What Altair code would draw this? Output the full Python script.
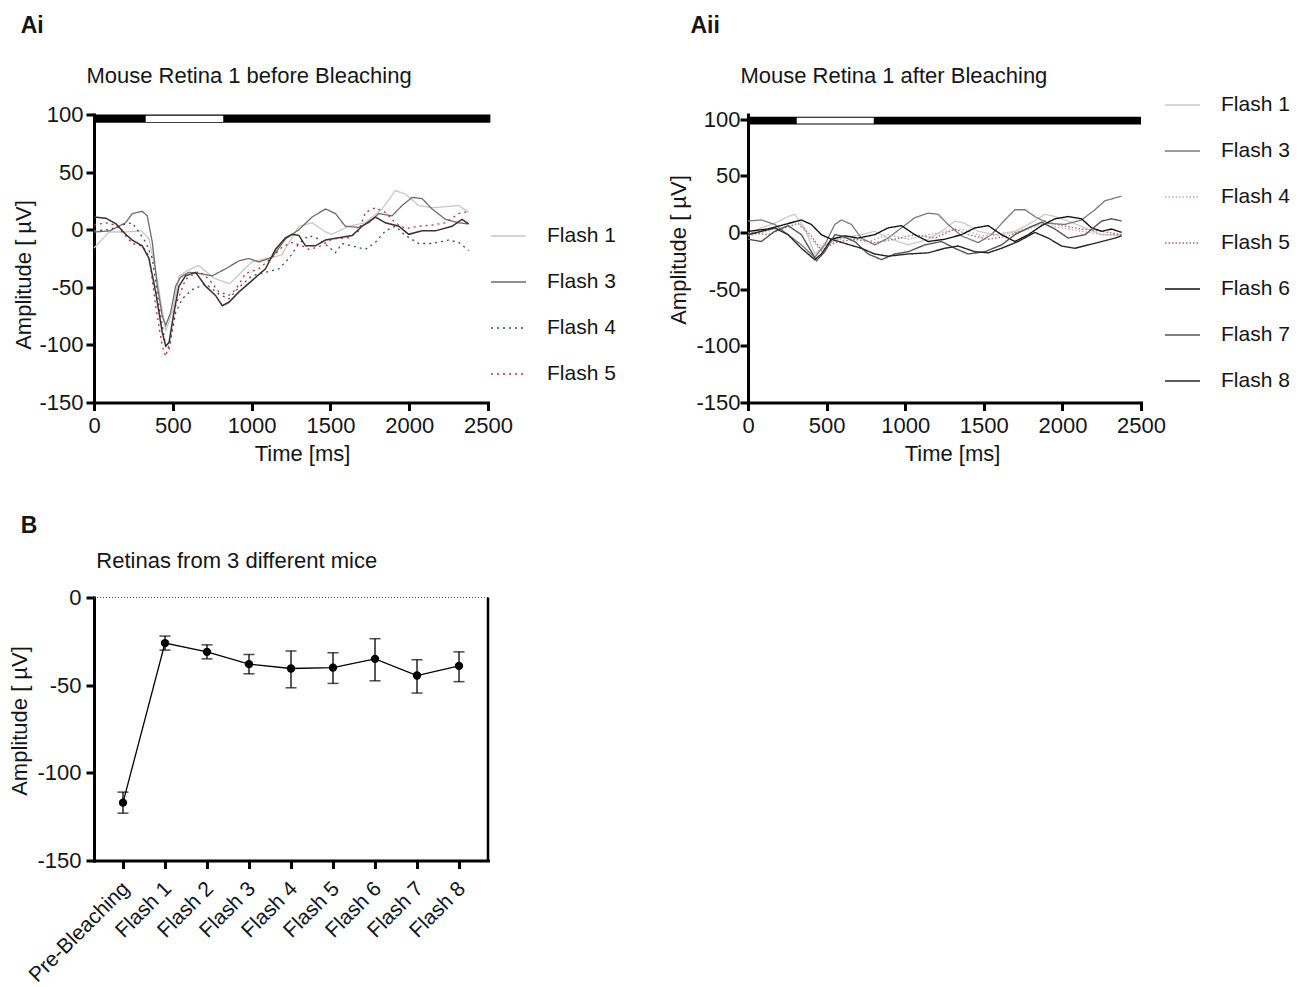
import altair as alt
import pandas as pd

FONT = "Liberation Sans"
INK = "#151515"

# ---------------- Panel Ai : before bleaching ----------------
AI_TAG = ["Ai"]
AI_SUBTITLE = ["Mouse Retina 1 before Bleaching"]
AI_SERIES = ["Flash 1", "Flash 3", "Flash 4", "Flash 5"]
AI_COLORS = ["#c8c8c8", "#6c6c6c", "#34458c", "#c0302c"]
AI_DASH = [[1, 0], [1, 0], [2, 4], [2, 4]]
AI_WIDTHS = [1.3, 1.3, 2.4, 2.4]

AI_F1_T = [0, 95, 200, 300, 350, 400, 455, 500, 540, 600, 665, 760, 860, 1000, 1190, 1300, 1385, 1470, 1510, 1617, 1720, 1828, 1912, 1976, 2060, 2145, 2315, 2377]
AI_F1_V = [-16, -2, -2, -1, -8, -42, -88, -70, -40, -35, -31, -42, -47, -28, -22, 3, 6, -2, -4, 3, 6, 18, 34, 31, 21, 19, 21, 15]

AI_F3_T = [0, 100, 200, 243, 306, 338, 370, 402, 433, 455, 486, 518, 550, 602, 666, 750, 835, 920, 983, 1046, 1130, 1215, 1300, 1384, 1469, 1532, 1595, 1680, 1743, 1807, 1891, 1955, 2018, 2082, 2145, 2230, 2314, 2377]
AI_F3_V = [-2, -1, 6, 14, 16, 12, -11, -49, -75, -83, -72, -49, -41, -37, -38, -40, -34, -27, -25, -28, -24, -8, 0, 11, 18, 14, 3, 2, 6, 14, 12, 21, 28, 27, 18, 9, 6, 5]

AI_F4_T = [0, 95, 200, 243, 285, 328, 370, 412, 455, 476, 518, 560, 623, 708, 793, 856, 920, 1004, 1088, 1173, 1236, 1300, 1363, 1426, 1490, 1532, 1574, 1638, 1722, 1786, 1849, 1912, 1976, 2060, 2145, 2251, 2314, 2377]
AI_F4_V = [-1, 0, 5, 6, -2, -11, -25, -66, -101, -104, -72, -60, -52, -47, -56, -60, -50, -40, -37, -34, -25, -12, -5, -8, -15, -20, -12, -14, -17, -11, -1, 3, -5, -12, -12, -9, -11, -18]

AI_F5_T = [0, 74, 137, 200, 243, 306, 349, 391, 433, 455, 486, 518, 581, 666, 729, 793, 856, 898, 962, 1046, 1130, 1194, 1257, 1321, 1363, 1426, 1511, 1617, 1680, 1722, 1786, 1849, 1912, 1976, 2060, 2145, 2230, 2314, 2377]
AI_F5_V = [4, 6, 4, -5, -12, -14, -23, -66, -101, -110, -95, -66, -43, -36, -43, -54, -57, -52, -38, -34, -24, -15, -11, -14, -17, -15, -8, -7, -1, 15, 19, 15, 6, 1, 3, 4, 6, 14, 16]

# an additional unlabelled dark trace visible in the panel
AI_EXTRA_T = [0, 75, 140, 200, 243, 306, 349, 391, 433, 455, 476, 507, 539, 581, 645, 708, 771, 814, 856, 920, 1004, 1088, 1152, 1215, 1257, 1300, 1342, 1405, 1469, 1553, 1638, 1701, 1786, 1849, 1934, 1997, 2082, 2166, 2272, 2335, 2377]
AI_EXTRA_V = [11, 10, 5, -4, -9, -14, -25, -54, -89, -101, -98, -72, -49, -40, -37, -49, -57, -66, -63, -54, -44, -34, -17, -7, -4, -5, -14, -14, -9, -7, -5, 3, 11, 6, 3, -4, -1, -1, 3, 9, 5]

AI_STIM_START = [0]
AI_STIM_END = [2515]
AI_LIGHT_ON = [328]
AI_LIGHT_OFF = [820]

# ---------------- Panel Aii : after bleaching ----------------
AII_TAG = ["Aii"]
AII_SUBTITLE = ["Mouse Retina 1 after Bleaching"]
AII_SERIES = ["Flash 1", "Flash 3", "Flash 4", "Flash 5", "Flash 6", "Flash 7", "Flash 8"]
AII_COLORS = ["#cacaca", "#7a7a7a", "#c9a3b4", "#a86868", "#101010", "#545454", "#262626"]
AII_DASH = [[1, 0], [1, 0], [1.5, 2], [1.5, 2], [1, 0], [1, 0], [1, 0]]
AII_WIDTHS = [1.3, 1.4, 1.1, 1.1, 1.6, 1.6, 1.5]

AII_F1_T = [0, 85, 170, 255, 297, 361, 424, 488, 594, 721, 806, 891, 1019, 1146, 1231, 1316, 1379, 1464, 1570, 1698, 1783, 1889, 1952, 2037, 2144, 2250, 2377]
AII_F1_V = [-2, 4, 8, 14, 16, 4, -19, -11, -5, -2, 1, -5, -11, -6, 1, 10, 8, 1, -2, 1, 7, 16, 14, 10, 4, -2, -2]

AII_F3_T = [0, 85, 170, 255, 340, 424, 488, 552, 594, 658, 721, 806, 891, 976, 1061, 1146, 1210, 1273, 1358, 1464, 1549, 1634, 1698, 1762, 1825, 1910, 2016, 2122, 2207, 2271, 2377]
AII_F3_V = [10, 11, 7, -2, -11, -22, -11, 7, 11, 7, -5, -11, -5, 4, 13, 17, 16, 7, -3, -9, -2, 11, 20, 20, 14, 8, 7, 11, 20, 28, 32]

AII_F4_T = [0, 127, 233, 318, 382, 446, 509, 637, 764, 891, 1019, 1146, 1273, 1358, 1486, 1613, 1740, 1868, 1995, 2122, 2250, 2377]
AII_F4_V = [-3, 1, 7, 10, -2, -13, -8, -5, -8, -2, -6, -2, 1, 3, -3, -2, 1, 7, 4, 1, -2, -3]

AII_F5_T = [0, 127, 233, 318, 403, 467, 552, 679, 806, 934, 1061, 1188, 1316, 1400, 1528, 1655, 1783, 1889, 1995, 2122, 2250, 2377]
AII_F5_V = [0, -2, 4, 8, -3, -16, -9, -6, -9, -6, -2, -5, 3, -2, -6, -3, 4, 10, 6, 3, 1, -2]

AII_F6_T = [0, 127, 233, 340, 403, 467, 530, 616, 700, 806, 891, 976, 1061, 1146, 1252, 1358, 1443, 1528, 1613, 1698, 1783, 1868, 1952, 2037, 2122, 2186, 2250, 2313, 2377]
AII_F6_V = [1, 3, 7, 11, 7, -2, -6, -3, -5, -2, 4, 6, -2, -8, -6, -2, 4, 6, -2, -8, -2, 6, 12, 14, 12, 4, 1, 3, 0]

AII_F7_T = [0, 85, 170, 255, 340, 403, 435, 488, 552, 594, 679, 764, 849, 934, 1019, 1125, 1231, 1316, 1400, 1507, 1613, 1698, 1783, 1868, 1952, 2037, 2144, 2250, 2313, 2377]
AII_F7_V = [-6, -8, 1, 6, -2, -17, -25, -17, -2, -3, -8, -19, -24, -19, -17, -11, -8, -14, -19, -17, -11, -2, 4, 9, 3, -5, -2, 10, 12, 10]

AII_F8_T = [0, 85, 170, 255, 340, 424, 467, 530, 600, 721, 806, 891, 1019, 1146, 1252, 1337, 1443, 1528, 1613, 1719, 1825, 1910, 1995, 2080, 2165, 2250, 2335, 2377]
AII_F8_V = [-2, 1, 4, -2, -14, -24, -19, -6, -9, -14, -19, -21, -19, -18, -14, -12, -17, -18, -14, -8, 0, -5, -12, -14, -11, -8, -5, -3]

AII_STIM_START = [0]
AII_STIM_END = [2500]
AII_LIGHT_ON = [310]
AII_LIGHT_OFF = [800]

# ---------------- Panel B : summary ----------------
B_TAG = ["B"]
B_SUBTITLE = ["Retinas from 3 different mice"]
B_CATS = ["Pre-Bleaching", "Flash 1", "Flash 2", "Flash 3", "Flash 4", "Flash 5", "Flash 6", "Flash 7", "Flash 8"]
B_MEAN = [-117, -26, -31, -38, -40.5, -40, -35, -44.5, -39]
B_LOW = [-123, -30, -35, -43.5, -51.5, -49, -47.5, -54.5, -48]
B_HIGH = [-111, -22, -27, -32.5, -30.5, -31.5, -23.5, -35.5, -31]

TIME_TICKS = [0, 500, 1000, 1500, 2000, 2500]
AMP_TICKS_A = [-150, -100, -50, 0, 50, 100]
AMP_TICKS_B = [-150, -100, -50, 0]

W_A, H_A = 394, 288
W_AII = 393
W_B, H_B = 394, 263

PLAIN = "'' + datum.value"


def traces_df(series):
    rows = []
    for name, ts, vs in series:
        for t, v in zip(ts, vs):
            rows.append({"series": name, "t": t, "v": v})
    return pd.DataFrame(rows)


def text_layer(texts, x, y, size, weight="normal"):
    return alt.Chart(pd.DataFrame({"label": texts})).mark_text(
        align="left", baseline="alphabetic", fontSize=size, fontWeight=weight,
        font=FONT, color=INK
    ).encode(x=alt.value(x), y=alt.value(y), text="label:N")


def trace_panel(df, extra, series, colors, dashes, widths, ydomain, stim, light,
                bar_y, white_y, legend_xy, xtitle_x, ytitle_xy, ylabel_pad,
                tag, tag_x, subtitle, width, height):
    xenc = alt.X("t:Q", scale=alt.Scale(domain=[0, 2500], nice=False, zero=False),
                 axis=alt.Axis(values=TIME_TICKS, title="Time [ms]", titleX=xtitle_x,
                               labelExpr=PLAIN, labelPadding=5, titlePadding=7))
    yenc = alt.Y("v:Q", scale=alt.Scale(domain=ydomain, nice=False, zero=False),
                 axis=alt.Axis(values=AMP_TICKS_A, title="Amplitude [ µV]",
                               titleX=ytitle_xy[0], titleY=ytitle_xy[1],
                               labelExpr=PLAIN, labelPadding=ylabel_pad))
    leg = alt.Legend(orient="none", legendX=legend_xy[0], legendY=legend_xy[1], title=None,
                     symbolType="stroke", symbolSize=1225, labelFontSize=21,
                     labelFont=FONT, labelColor=INK, labelOffset=20, rowPadding=17)
    lines = alt.Chart(df).mark_line().encode(
        x=xenc, y=yenc,
        color=alt.Color("series:N", scale=alt.Scale(domain=series, range=colors), legend=leg),
        strokeDash=alt.StrokeDash("series:N", scale=alt.Scale(domain=series, range=dashes), legend=leg),
        strokeWidth=alt.StrokeWidth("series:N", scale=alt.Scale(domain=series, range=widths), legend=leg),
    )
    layers = [lines]
    if extra is not None:
        layers.append(alt.Chart(extra).mark_line(color="#3a302c", strokeWidth=1.5).encode(x=xenc, y=yenc))
    sdf = pd.DataFrame({"t": stim[0], "t2": stim[1]})
    ldf = pd.DataFrame({"t": light[0], "t2": light[1]})
    layers.append(alt.Chart(sdf).mark_rect(color="black").encode(
        x=xenc, x2="t2:Q", y=alt.value(bar_y[0]), y2=alt.value(bar_y[1])))
    layers.append(alt.Chart(ldf).mark_rect(color="white").encode(
        x=xenc, x2="t2:Q", y=alt.value(white_y[0]), y2=alt.value(white_y[1])))
    layers.append(text_layer(tag, tag_x, -81.7, 23, "bold"))
    layers.append(text_layer(subtitle, -7.6, -32, 22))
    return alt.layer(*layers).properties(width=width, height=height)


ai_df = traces_df([("Flash 1", AI_F1_T, AI_F1_V), ("Flash 3", AI_F3_T, AI_F3_V),
                   ("Flash 4", AI_F4_T, AI_F4_V), ("Flash 5", AI_F5_T, AI_F5_V)])
ai_extra = pd.DataFrame({"t": AI_EXTRA_T, "v": AI_EXTRA_V})

ai = trace_panel(ai_df, ai_extra, AI_SERIES, AI_COLORS, AI_DASH, AI_WIDTHS, [-150, 100],
                 (AI_STIM_START, AI_STIM_END), (AI_LIGHT_ON, AI_LIGHT_OFF),
                 (0, 8.3), (1.2, 7.4), (396, 103), 208, (-59, 160), 3,
                 AI_TAG, -73.3, AI_SUBTITLE, W_A, H_A)

aii_df = traces_df([("Flash 1", AII_F1_T, AII_F1_V), ("Flash 3", AII_F3_T, AII_F3_V),
                    ("Flash 4", AII_F4_T, AII_F4_V), ("Flash 5", AII_F5_T, AII_F5_V),
                    ("Flash 6", AII_F6_T, AII_F6_V), ("Flash 7", AII_F7_T, AII_F7_V),
                    ("Flash 8", AII_F8_T, AII_F8_V)])

aii = trace_panel(aii_df, None, AII_SERIES, AII_COLORS, AII_DASH, AII_WIDTHS, [-150, 104],
                  (AII_STIM_START, AII_STIM_END), (AII_LIGHT_ON, AII_LIGHT_OFF),
                  (2.3, 10), (3.3, 9), (416, -28), 204, (-57.6, 135), 0,
                  AII_TAG, -57.6, AII_SUBTITLE, W_AII, H_A)

# ---------------- Panel B ----------------
bdf = pd.DataFrame({"cat": B_CATS, "mean": B_MEAN, "low": B_LOW, "high": B_HIGH,
                    "idx": list(range(len(B_CATS)))})
bx = alt.X("cat:N", sort=B_CATS, scale=alt.Scale(type="point", padding=0.69),
           axis=alt.Axis(title=None, labelAngle=-45, labelAlign="right", labelFontSize=21,
                         labelBaseline="top", labelPadding=9, labelOffset=-5))
by = alt.Y("mean:Q", scale=alt.Scale(domain=[-150, 0], nice=False, zero=False),
           axis=alt.Axis(values=AMP_TICKS_B, title="Amplitude [ µV]", titleX=-62.5,
                         titleY=123, labelExpr=PLAIN, labelPadding=5))
bbase = alt.Chart(bdf)
b_zero = alt.Chart(pd.DataFrame({"z": [0]})).mark_rule(
    color="#555", strokeDash=[1, 2], strokeWidth=1).encode(y=alt.Y("z:Q"))
b_right = alt.Chart(pd.DataFrame({"z": [0]})).mark_rule(color="black", strokeWidth=2.5).encode(
    x=alt.value(W_B), y=alt.value(0), y2=alt.value(H_B))
b_err = bbase.mark_rule(color="black", strokeWidth=1.3).encode(x=bx, y="low:Q", y2="high:Q")
b_cap_lo = bbase.mark_tick(color="black", size=11, thickness=1.5).encode(x=bx, y="low:Q")
b_cap_hi = bbase.mark_tick(color="black", size=11, thickness=1.5).encode(x=bx, y="high:Q")
b_line = bbase.mark_line(color="black", strokeWidth=1.3).encode(x=bx, y=by, order="idx:Q")
b_pts = bbase.mark_point(filled=True, color="black", size=70, opacity=1).encode(x=bx, y=by)
b = alt.layer(b_zero, b_err, b_cap_lo, b_cap_hi, b_line, b_pts, b_right,
              text_layer(B_TAG, -73.3, -65, 23, "bold"),
              text_layer(B_SUBTITLE, 2.3, -30, 22)).properties(width=W_B, height=H_B)

chart = alt.concat(ai, aii, b, columns=2, spacing={"row": 195, "column": 260}).resolve_scale(
    color="independent", strokeDash="independent", strokeWidth="independent"
).resolve_legend(
    color="independent", strokeDash="independent", strokeWidth="independent"
).properties(
    bounds="flush",
    padding={"left": 0, "top": 6.5, "right": 5, "bottom": 2},
).configure(font=FONT).configure_view(stroke=None).configure_axis(
    domainColor="black", domainWidth=3, domainCap="square", tickColor="black", tickWidth=3,
    tickSize=8, grid=False, labelFont=FONT, labelFontSize=22, labelColor=INK,
    labelFlush=False, labelOverlap=False, titleFont=FONT, titleFontSize=22,
    titleFontWeight="normal", titleColor=INK
)

chart.save("out.html", embed_options={"renderer": "svg", "actions": False})
